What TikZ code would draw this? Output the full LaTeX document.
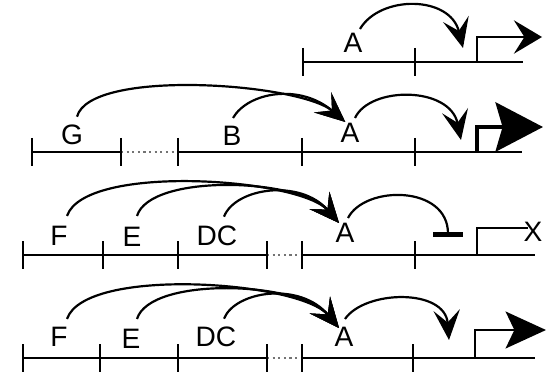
\documentclass[tikz,border=0pt]{standalone}
\usepackage{fontspec}
\setmainfont{Liberation Sans}
\usetikzlibrary{arrows.meta,calc}
\begin{document}
\begin{tikzpicture}[x=0.02cm,y=-0.02cm,
  lbl/.style={inner sep=0pt, font=\fontsize{16}{18}\selectfont},
  dna/.style={line width=1.2pt},
  tk/.style={line width=1.2pt},
  gap/.style={dotted, line width=1.2pt, black!55},
  act/.style={-{Stealth[length=17pt,width=15pt,inset=7pt]}, line width=1.25pt},
  rep/.style={-{Bar[width=17pt,line width=2.6pt]}, line width=1.25pt},
  promA/.style={-{Stealth[length=16pt,width=19pt,inset=6pt]}, line width=1.2pt},
  promB/.style={-{Stealth[length=27pt,width=28pt,inset=4pt]}, line width=2.5pt},
  promC/.style={-{Stealth[length=23pt,width=21pt,inset=5pt]}, line width=1.4pt}]
\useasboundingbox (0,0) rectangle (551,375);

% ---------- row 1 ----------
\draw[dna] (303,62) -- (523,62);
\foreach \x in {303,415} \draw[tk] (\x,48) -- (\x,76);
\node[lbl] (A1) at (353,43) {A};
\coordinate (t1) at (463,48);
\coordinate (p1) at (477,62);
\coordinate (p1e) at (542,37);
\draw[promA] (p1) |- (p1e);
\draw[act] ($(A1.north)+(7,-4)$) .. controls (380,-5) and (450,-5) .. (t1);

% ---------- row 2 ----------
\draw[dna] (32,152) -- (121,152);
\draw[gap] (121,152) -- (178,152);
\draw[dna] (178,152) -- (522,152);
\foreach \x in {32,121,178,302,415} \draw[tk] (\x,138) -- (\x,166);
\node[lbl] (G) at (72,135) {G};
\node[lbl] (B) at (232,136) {B};
\node[lbl] (A2) at (350,133) {A};
\coordinate (t2a) at ($(A2.north west)+(5,-1)$);
\coordinate (t2b) at (461,140);
\coordinate (p2) at (477,152);
\coordinate (p2e) at (543,127);
\draw[act] ($(G.north)+(5,-8)$) .. controls (90,68) and (300,83) .. (t2a);
\draw[act] ($(B.north)+(1,-8)$) .. controls (248,92) and (300,83) .. (t2a);
\draw[act] ($(A2.north)+(5,-5)$) .. controls (370,86) and (450,86) .. (t2b);
\draw[promB] (p2) |- (p2e);

% ---------- row 3 ----------
\draw[dna] (23,255) -- (267,255);
\draw[gap] (267,255) -- (302,255);
\draw[dna] (302,255) -- (535,255);
\foreach \x in {23,103,178,267,302,415} \draw[tk] (\x,241) -- (\x,269);
\node[lbl] (F3) at (59,236) {F};
\node[lbl] (E3) at (132,237) {E};
\node[lbl] (DC3) at (217,236) {DC};
\node[lbl] (A3) at (345,233) {A};
\node[lbl] (X3) at (533,232) {X};
\coordinate (t3a) at (339,223);
\coordinate (t3b) at (448,237);
\coordinate (p3) at (477,255);
\draw[act] ($(F3.north)+(8,-10)$) .. controls (85,163) and (300,178) .. (t3a);
\draw[act] ($(E3.north)+(5,-11)$) .. controls (150,173) and (300,178) .. (t3a);
\draw[act] ($(DC3.north)+(7,-9)$) .. controls (235,188) and (300,178) .. (t3a);
\draw[rep] ($(A3.north)+(3,-5)$) .. controls (365,185) and (448,185) .. (t3b);
\draw[dna] (p3) |- ($(X3.center)+(-5,-4)$);

% ---------- row 4 ----------
\draw[dna] (23,358) -- (267,358);
\draw[gap] (267,358) -- (302,358);
\draw[dna] (302,358) -- (535,358);
\foreach \x in {23,100,178,267,302,413} \draw[tk] (\x,344) -- (\x,372);
\node[lbl] (F4) at (59,337) {F};
\node[lbl] (E4) at (131,339) {E};
\node[lbl] (DC4) at (216,337) {DC};
\node[lbl] (A4) at (344,337) {A};
\coordinate (t4a) at (339,328);
\coordinate (t4b) at (449,340);
\coordinate (p4) at (475,358);
\coordinate (p4e) at (546,330);
\draw[act] ($(F4.north)+(8,-8)$) .. controls (85,266) and (300,281) .. (t4a);
\draw[act] ($(E4.north)+(6,-10)$) .. controls (150,276) and (300,281) .. (t4a);
\draw[act] ($(DC4.north)+(8,-8)$) .. controls (235,291) and (300,281) .. (t4a);
\draw[act] ($(A4.north)+(1,-8)$) .. controls (365,290) and (445,288) .. (t4b);
\draw[promC] (p4) |- (p4e);
\end{tikzpicture}
\end{document}
